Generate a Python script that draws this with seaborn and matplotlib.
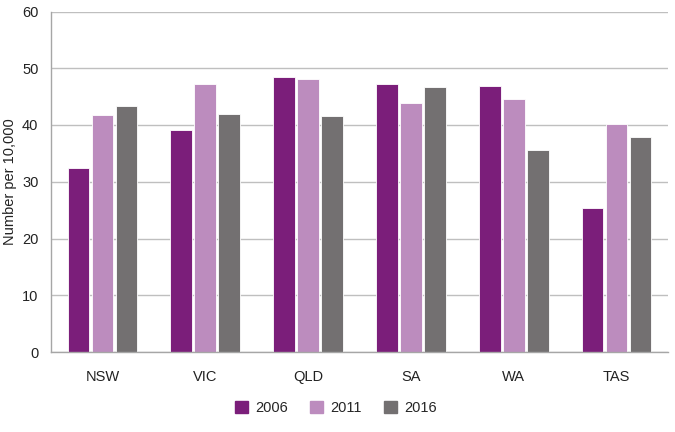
import numpy as np
import pandas as pd
import seaborn as sns
import matplotlib.pyplot as plt

# === Data ===
states = ["NSW", "VIC", "QLD", "SA", "WA", "TAS"]
years = ["2006", "2011", "2016"]
vals_2006 = [32.5, 39.1, 48.5, 47.3, 46.9, 25.3]
vals_2011 = [41.8, 47.2, 48.1, 43.9, 44.5, 40.1]
vals_2016 = [43.4, 41.9, 41.5, 46.7, 35.6, 37.9]
colors = ["#7B1E7A", "#BC8CBE", "#737071"]

df = pd.DataFrame({
    "state": states * 3,
    "year": [y for y in years for _ in states],
    "value": vals_2006 + vals_2011 + vals_2016,
})

# === Style ===
sns.set_style("white")
plt.rcParams["font.family"] = ["Liberation Sans", "DejaVu Sans"]
fs = 10.5

fig = plt.figure(figsize=(6.75, 4.32), dpi=100)
ax = fig.add_axes([51 / 675, 1 - 352 / 432, 617 / 675, 340.5 / 432])

sns.barplot(data=df, x="state", y="value", hue="year", order=states,
            hue_order=years, palette=colors, saturation=1, width=0.7, gap=0.1,
            edgecolor="white", linewidth=0.6, ax=ax, legend=False)

# === Axes ===
ax.set_ylim(0, 60)
ax.set_xlim(-0.5, len(states) - 0.5)
ax.set_yticks(range(0, 61, 10))
ax.yaxis.grid(True, color="#BFBFBF", linewidth=1)
ax.set_axisbelow(True)
for s in ["top", "right"]:
    ax.spines[s].set_visible(False)
for s in ["left", "bottom"]:
    ax.spines[s].set_color("#A6A6A6")
    ax.spines[s].set_linewidth(1)

ax.set_xticks(np.arange(-0.5, len(states)), minor=True)
ax.tick_params(axis="x", which="major", length=0, pad=13, labelsize=fs, colors="#222222")
ax.tick_params(axis="x", which="minor", direction="in", length=6, color="#BFBFBF", width=1)
ax.tick_params(axis="y", length=0, pad=9, labelsize=fs, colors="#222222")
ax.set_xlabel("")
ax.set_ylabel("Number per 10,000", fontsize=fs, color="#222222")
ax.yaxis.set_label_coords((17 - 51) / 617, 0.5)

# === Legend ===
handles = [plt.Rectangle((0, 0), 1, 1, color=c) for c in colors]
fig.legend(handles, years, loc="center", bbox_to_anchor=(336 / 675, 1 - 408 / 432), ncol=3,
           frameon=False, fontsize=fs, handlelength=0.9, handleheight=0.9,
           handletextpad=0.5, columnspacing=1.5)

plt.savefig("out.png", dpi=100)
